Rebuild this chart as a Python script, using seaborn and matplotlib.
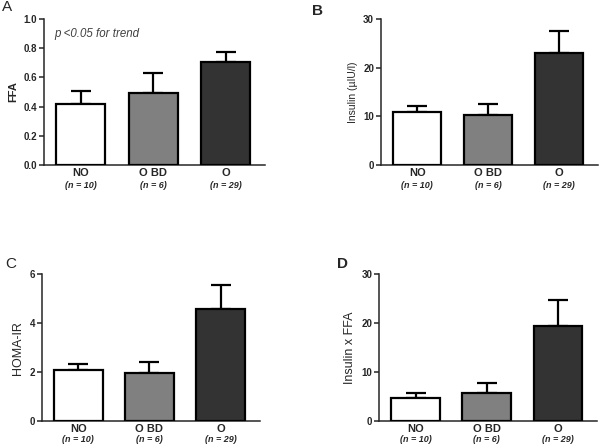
import numpy as np
import matplotlib
matplotlib.use("Agg")
import matplotlib.pyplot as plt
import seaborn as sns

groups = ["NO", "O BD", "O"]
n_labels = ["(n = 10)", "(n = 6)", "(n = 29)"]
bar_colors = ["#ffffff", "#808080", "#333333"]

ffa_mean = [0.42, 0.49, 0.705]
ffa_sem = [0.09, 0.14, 0.07]
ins_mean = [10.8, 10.3, 23.0]
ins_sem = [1.3, 2.2, 4.5]
homa_mean = [2.07, 1.98, 4.57]
homa_sem = [0.27, 0.42, 0.98]
ixf_mean = [4.6, 5.7, 19.4]
ixf_sem = [1.1, 2.1, 5.3]

sns.set_style("ticks")
plt.rcParams["font.family"] = ["Liberation Sans", "DejaVu Sans"]

fig = plt.figure(figsize=(6, 4.47), dpi=100)

panels = [
    # letter, mean, sem, ylabel, yticks, ylim, rect, ylabel bold, label size, fmt, n offset
    ("A", ffa_mean, ffa_sem, "FFA", [0, 0.2, 0.4, 0.6, 0.8, 1.0], (0, 1.0),
     [0.0733, 0.631, 0.369, 0.3265], True, 8, "%.1f", -15),
    ("B", ins_mean, ins_sem, "Insulin (µIU/l)", [0, 10, 20, 30], (0, 30),
     [0.635, 0.631, 0.362, 0.3265], False, 7.5, "%d", -15),
    ("C", homa_mean, homa_sem, "HOMA-IR", [0, 2, 4, 6], (0, 6),
     [0.07, 0.0582, 0.363, 0.3281], False, 9, "%d", -13.5),
    ("D", ixf_mean, ixf_sem, "Insulin x FFA", [0, 10, 20, 30], (0, 30),
     [0.632, 0.0582, 0.363, 0.3281], False, 9, "%d", -13.5),
]

letter_pos = {"A": (0.003, 0.999), "B": (0.52, 0.99), "C": (0.008, 0.425), "D": (0.562, 0.425)}
letter_weight = {"A": "normal", "B": "bold", "C": "normal", "D": "bold"}

for letter, mean, sem, ylabel, yticks, ylim, rect, ybold, ysize, fmt, noff in panels:
    ax = fig.add_axes(rect)
    sns.barplot(x=groups, y=mean, hue=groups, palette=bar_colors, legend=False,
                edgecolor="black", linewidth=1.6, width=0.68, ax=ax, zorder=3)
    # only the upper half of the SEM bar is shown
    ax.errorbar(range(len(groups)), mean, yerr=[np.zeros(len(mean)), sem],
                fmt="none", ecolor="black", elinewidth=1.6, capsize=7.5,
                capthick=1.6, zorder=2)
    ax.set_xlim(-0.51, 2.55)
    ax.set_ylim(*ylim)
    ax.set_yticks(yticks)
    ax.set_yticklabels([fmt % t for t in yticks], fontsize=7, fontweight="bold")
    ax.set_xticks(range(len(groups)))
    ax.set_xticklabels(groups, fontsize=8, fontweight="bold")
    ax.tick_params(axis="x", length=0, pad=2.5)
    ax.tick_params(axis="y", length=3.5, width=1.1, pad=1.5)
    for i, lab in enumerate(n_labels):
        ax.annotate(lab, xy=(i, 0), xycoords=("data", "axes fraction"),
                    xytext=(0, noff), textcoords="offset points",
                    ha="center", va="center", fontsize=6.5,
                    fontweight="bold", fontstyle="italic")
    ax.set_ylabel(ylabel, fontsize=ysize,
                  fontweight="bold" if ybold else "normal", labelpad=4)
    sns.despine(ax=ax)
    ax.spines["left"].set_linewidth(1.1)
    ax.spines["bottom"].set_linewidth(1.1)
    ax.set_facecolor("white")
    fig.text(*letter_pos[letter], letter, fontsize=11, ha="left", va="top",
             fontweight=letter_weight[letter])

fig.axes[0].text(0.045, 0.9, "p <0.05 for trend", transform=fig.axes[0].transAxes,
                 fontsize=8.3, fontstyle="italic", color="#404040", va="center")

fig.savefig("out.png", dpi=100, facecolor="white")
